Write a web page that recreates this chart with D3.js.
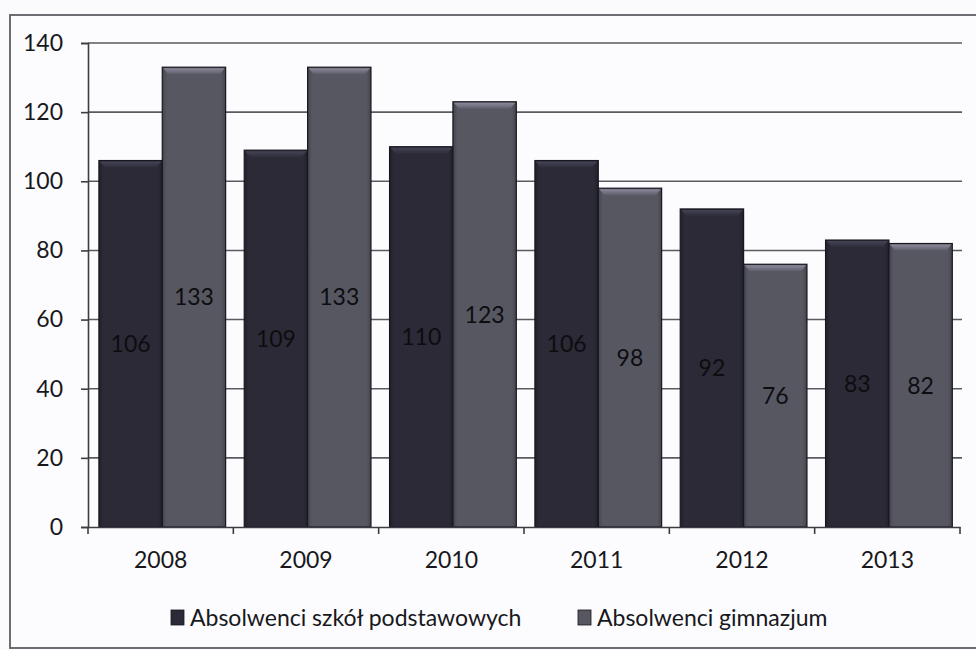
<!DOCTYPE html>
<html><head><meta charset="utf-8">
<script src="https://cdn.jsdelivr.net/npm/d3@7"></script>
<style>
html,body{margin:0;padding:0;background:#fbfbfd;}
svg{display:block;font-family:Lato, "Open Sans", sans-serif;}
</style></head>
<body><svg id="c" width="976" height="650"></svg>
<script>
const years = ["2008","2009","2010","2011","2012","2013"];
const seriesNames = ["Absolwenci szkół podstawowych","Absolwenci gimnazjum"];
const primary = [106,109,110,106,92,83];
const lower = [133,133,123,98,76,82];
const yTicks = [0,20,40,60,80,100,120,140];
const seriesValues = [primary, lower];
const colors = ["#2b2a36","#575762"];

const svg = d3.select("#c");
const m = {left:88, right:16, top:43, bottom:123};
const W = 976, H = 650;
const plotR = W - m.right, plotB = H - m.bottom;
const FS = 23;

// outer border
svg.append("rect").attr("x",10).attr("y",15).attr("width",990).attr("height",633)
  .attr("fill","#fcfcfe").attr("stroke","#5e5e66").attr("stroke-width",1.8);

const defs = svg.append("defs");
colors.forEach((c,i)=>{
  const g = defs.append("linearGradient").attr("id","g"+i).attr("x1",0).attr("x2",1).attr("y1",0).attr("y2",0);
  const base = d3.color(c);
  g.append("stop").attr("offset","0%").attr("stop-color",base.darker(0.7));
  g.append("stop").attr("offset","7%").attr("stop-color",base);
  g.append("stop").attr("offset","93%").attr("stop-color",base);
  g.append("stop").attr("offset","100%").attr("stop-color",base.darker(0.7));
  const t = defs.append("linearGradient").attr("id","t"+i).attr("x1",0).attr("x2",0).attr("y1",0).attr("y2",1);
  t.append("stop").attr("offset","0%").attr("stop-color",base.brighter(1.3));
  t.append("stop").attr("offset","100%").attr("stop-color",base.brighter(0.2));
});

const x0 = d3.scaleBand().domain(years).range([m.left, plotR]).padding(0);
const bw = x0.bandwidth();
const x1 = d3.scaleBand().domain([0,1]).range([bw*0.075, bw*0.947]).padding(0);
const y = d3.scaleLinear().domain([0,140]).range([plotB, m.top]);

// gridlines
svg.append("g").selectAll("line").data(yTicks.filter(d=>d>0)).join("line")
  .attr("x1",m.left).attr("x2",plotR+2).attr("y1",d=>y(d)).attr("y2",d=>y(d))
  .attr("stroke","#5a5a62").attr("stroke-width",1.6);

// bars
const groups = svg.append("g").selectAll("g").data(years).join("g")
  .attr("transform",d=>`translate(${x0(d)},0)`);
groups.each(function(yr, i){
  const g = d3.select(this);
  seriesValues.forEach((vals, s)=>{
    const v = vals[i];
    const bx = x1(s), bwid = x1.bandwidth(), by = y(v), bh = y(0)-y(v);
    g.append("rect").attr("x",bx).attr("y",by).attr("width",bwid).attr("height",bh)
      .attr("fill",`url(#g${s})`).attr("stroke","#18171f").attr("stroke-width",1.2);
    g.append("path")
      .attr("d",`M${bx+1},${by+1} L${bx+bwid-1},${by+1} L${bx+bwid-6},${by+7} L${bx+6},${by+7} Z`)
      .attr("fill",`url(#t${s})`);
    g.append("text").attr("x",bx+bwid/2).attr("y",y(v/2)).attr("dy","0.36em")
      .attr("text-anchor","middle").attr("font-size",FS).attr("fill","#0d0d10")
      .text(v);
  });
});

// y axis
const yAxis = svg.append("g").attr("transform",`translate(${m.left},0)`)
  .call(d3.axisLeft(y).tickValues(yTicks).tickSize(7).tickPadding(18));
yAxis.select(".domain").attr("stroke","#3c3c44").attr("stroke-width",1.6);
yAxis.selectAll(".tick line").attr("stroke","#3c3c44").attr("stroke-width",1.6);
yAxis.selectAll("text").attr("font-size",FS).attr("fill","#18181c").attr("font-family","Lato");

// x axis
const xAxis = svg.append("g").attr("transform",`translate(0,${plotB})`)
  .call(d3.axisBottom(x0).tickSize(0).tickPadding(25));
xAxis.select(".domain").attr("stroke","#3c3c44").attr("stroke-width",1.6);
xAxis.selectAll("text").attr("font-size",FS).attr("fill","#18181c").attr("font-family","Lato");
const bounds = years.map(d=>x0(d)).concat([x0.range()[1]]);
xAxis.selectAll("line.b").data(bounds).join("line").attr("class","b")
  .attr("x1",d=>d).attr("x2",d=>d).attr("y1",0).attr("y2",7)
  .attr("stroke","#3c3c44").attr("stroke-width",1.6);

// legend
const legX = [171, 578];
const leg = svg.append("g").selectAll("g").data(seriesNames).join("g")
  .attr("transform",(d,i)=>`translate(${legX[i]},610)`);
leg.append("rect").attr("width",13).attr("height",15).attr("fill",(d,i)=>colors[i])
  .attr("stroke","#18171f").attr("stroke-width",0.8);
leg.append("text").attr("x",19).attr("y",8).attr("dy","0.36em")
  .attr("font-size",FS).attr("fill","#18181c").text(d=>d);
</script>
</body></html>
